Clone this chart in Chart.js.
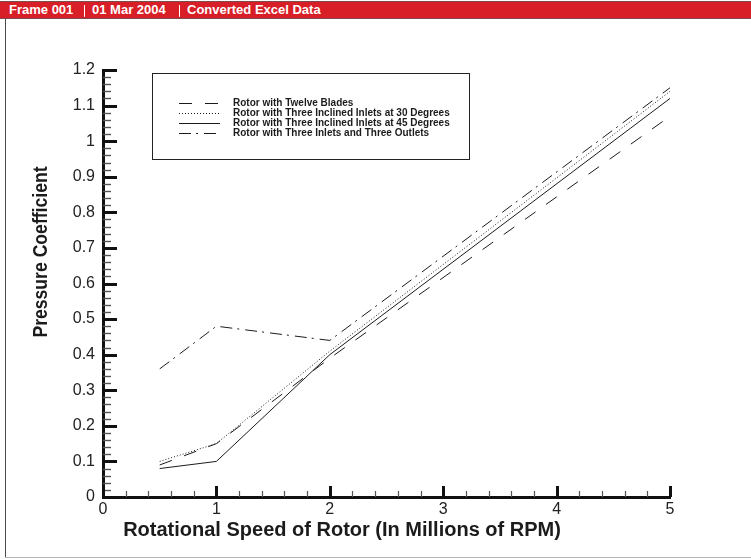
<!DOCTYPE html>
<html lang="en">
<head>
    <meta charset="UTF-8">
    <title>Pressure Coefficient vs Rotational Speed</title>
    <script src="https://cdn.jsdelivr.net/npm/chart.js"></script>
    <style>
        body { margin: 0; background: #fff; width: 751px; height: 559px; overflow: hidden; position: relative; }
        #plot { position: absolute; left: 0; top: 0; }
        .frame-bar {
            position: absolute; left: 0; top: 1px; width: 751px; height: 16px;
            background: #d81e26; border-top: 1px solid #7d4b4b; border-bottom: 1px solid #7d4b4b;
            font: bold 13px "Liberation Sans", Arial, sans-serif; color: #fff; line-height: 16px;
            z-index: 2;
        }
        .frame-bar span { position: absolute; top: 0; }
        .frame-bar .sep { position: absolute; top: 3px; width: 1px; height: 12px; background: #fff; }
        .frame-left { position: absolute; left: 5px; top: 18px; width: 1px; height: 540px; background: #4a4a4a; }
        .frame-bottom { position: absolute; left: 5px; top: 557px; width: 746px; height: 1px; background: #b5b5b5; }
    </style>
</head>
<body>
    <div class="frame-bar">
        <span style="left:9px">Frame 001</span>
        <div class="sep" style="left:84px"></div>
        <span style="left:92px">01 Mar 2004</span>
        <div class="sep" style="left:179px"></div>
        <span style="left:187px">Converted Excel Data</span>
    </div>
    <div class="frame-left"></div>
    <div class="frame-bottom"></div>
    <canvas id="plot" width="751" height="559"></canvas>

    <script>
        // rotational speed, millions of RPM
        const speeds = [0.5, 1, 2, 5];

        const twelveBlades = [0.09, 0.15, 0.39, 1.07];
        const inclined30 = [0.10, 0.15, 0.41, 1.14];
        const inclined45 = [0.08, 0.10, 0.40, 1.12];
        const inletsOutlets = [0.36, 0.48, 0.44, 1.15];

        const seriesLabels = [
            'Rotor with Twelve Blades',
            'Rotor with Three Inclined Inlets at 30 Degrees',
            'Rotor with Three Inclined Inlets at 45 Degrees',
            'Rotor with Three Inlets and Three Outlets'
        ];
        const seriesDash = [[13, 13], [1, 2], [], [12, 5, 2, 6]];

        const xTitle = 'Rotational Speed of Rotor (In Millions of RPM)';
        const yTitle = 'Pressure Coefficient';

        const FONT = '"Liberation Sans", Arial, Helvetica, sans-serif';
        const INK = '#1b1b1b';

        const series = [twelveBlades, inclined30, inclined45, inletsOutlets];
        const datasets = series.map((vals, i) => ({
            label: seriesLabels[i],
            data: speeds.map((s, j) => ({ x: s, y: vals[j] })),
            borderColor: INK,
            borderWidth: 1,
            borderDash: seriesDash[i],
            pointRadius: 0,
            fill: false,
            tension: 0
        }));

        // inward ticks, axis titles and the boxed legend
        const tecDecor = {
            id: 'tecDecor',
            afterDraw(chart) {
                const { ctx, chartArea: area, scales: { x, y } } = chart;
                ctx.save();
                ctx.lineCap = 'butt';

                // y axis: major every 0.1, minor every 0.02
                for (let i = 0; i <= 60; i++) {
                    const py = Math.round(y.getPixelForValue(i * 0.02)) + 0.5;
                    const major = i % 5 === 0;
                    ctx.beginPath();
                    ctx.strokeStyle = major ? '#111' : '#555';
                    ctx.lineWidth = major ? 3 : 1.4;
                    ctx.moveTo(area.left, py);
                    ctx.lineTo(area.left + (major ? 14 : 8), py);
                    ctx.stroke();
                }
                // x axis: major every 1, minor every 0.2
                for (let i = 0; i <= 25; i++) {
                    const px = Math.round(x.getPixelForValue(i * 0.2)) + 0.5;
                    const major = i % 5 === 0;
                    ctx.beginPath();
                    ctx.strokeStyle = major ? '#111' : '#555';
                    ctx.lineWidth = major ? 3 : 1.2;
                    ctx.moveTo(px, area.bottom);
                    ctx.lineTo(px, area.bottom - (major ? 11 : 6));
                    ctx.stroke();
                }

                // axis titles
                ctx.fillStyle = INK;
                ctx.font = 'bold 20px ' + FONT;
                ctx.textAlign = 'center';
                ctx.textBaseline = 'alphabetic';
                ctx.fillText(xTitle, 342, 536);
                ctx.save();
                ctx.translate(47, 252);
                ctx.rotate(-Math.PI / 2);
                ctx.scale(0.88, 1);
                ctx.fillText(yTitle, 0, 0);
                ctx.restore();

                // legend box
                ctx.strokeStyle = '#222';
                ctx.lineWidth = 1;
                ctx.strokeRect(152.5, 73.5, 317, 86);
                ctx.font = 'bold 10px ' + FONT;
                ctx.textAlign = 'left';
                ctx.textBaseline = 'middle';
                chart.data.datasets.forEach((ds, i) => {
                    const ry = 103.5 + i * 10;
                    ctx.beginPath();
                    ctx.setLineDash(ds.borderDash);
                    ctx.strokeStyle = INK;
                    ctx.lineWidth = 1;
                    ctx.moveTo(179, ry);
                    ctx.lineTo(220, ry);
                    ctx.stroke();
                    ctx.setLineDash([]);
                    ctx.fillText(ds.label, 233, ry);
                });
                ctx.restore();
            }
        };

        new Chart(document.getElementById('plot'), {
            type: 'line',
            data: { datasets },
            options: {
                responsive: false,
                animation: false,
                devicePixelRatio: 1,
                layout: { padding: { left: 0, right: 81, top: 70, bottom: 0 } },
                plugins: { legend: { display: false }, tooltip: { enabled: false } },
                scales: {
                    x: {
                        type: 'linear',
                        min: 0,
                        max: 5,
                        grid: { display: false, drawTicks: false },
                        border: { display: true, color: '#111', width: 3 },
                        ticks: { stepSize: 1, padding: 3, color: '#222', font: { family: FONT, size: 16 }, maxRotation: 0 },
                        afterFit(scale) { scale.height = 62; }
                    },
                    y: {
                        min: 0,
                        max: 1.2,
                        grid: { display: false, drawTicks: false },
                        border: { display: true, color: '#111', width: 3 },
                        ticks: {
                            stepSize: 0.1,
                            padding: 8,
                            color: '#222',
                            font: { family: FONT, size: 16 },
                            callback: (v) => String(Number(v.toFixed(1)))
                        },
                        afterFit(scale) { scale.width = 103; }
                    }
                }
            },
            plugins: [tecDecor]
        });
    </script>
</body>
</html>
